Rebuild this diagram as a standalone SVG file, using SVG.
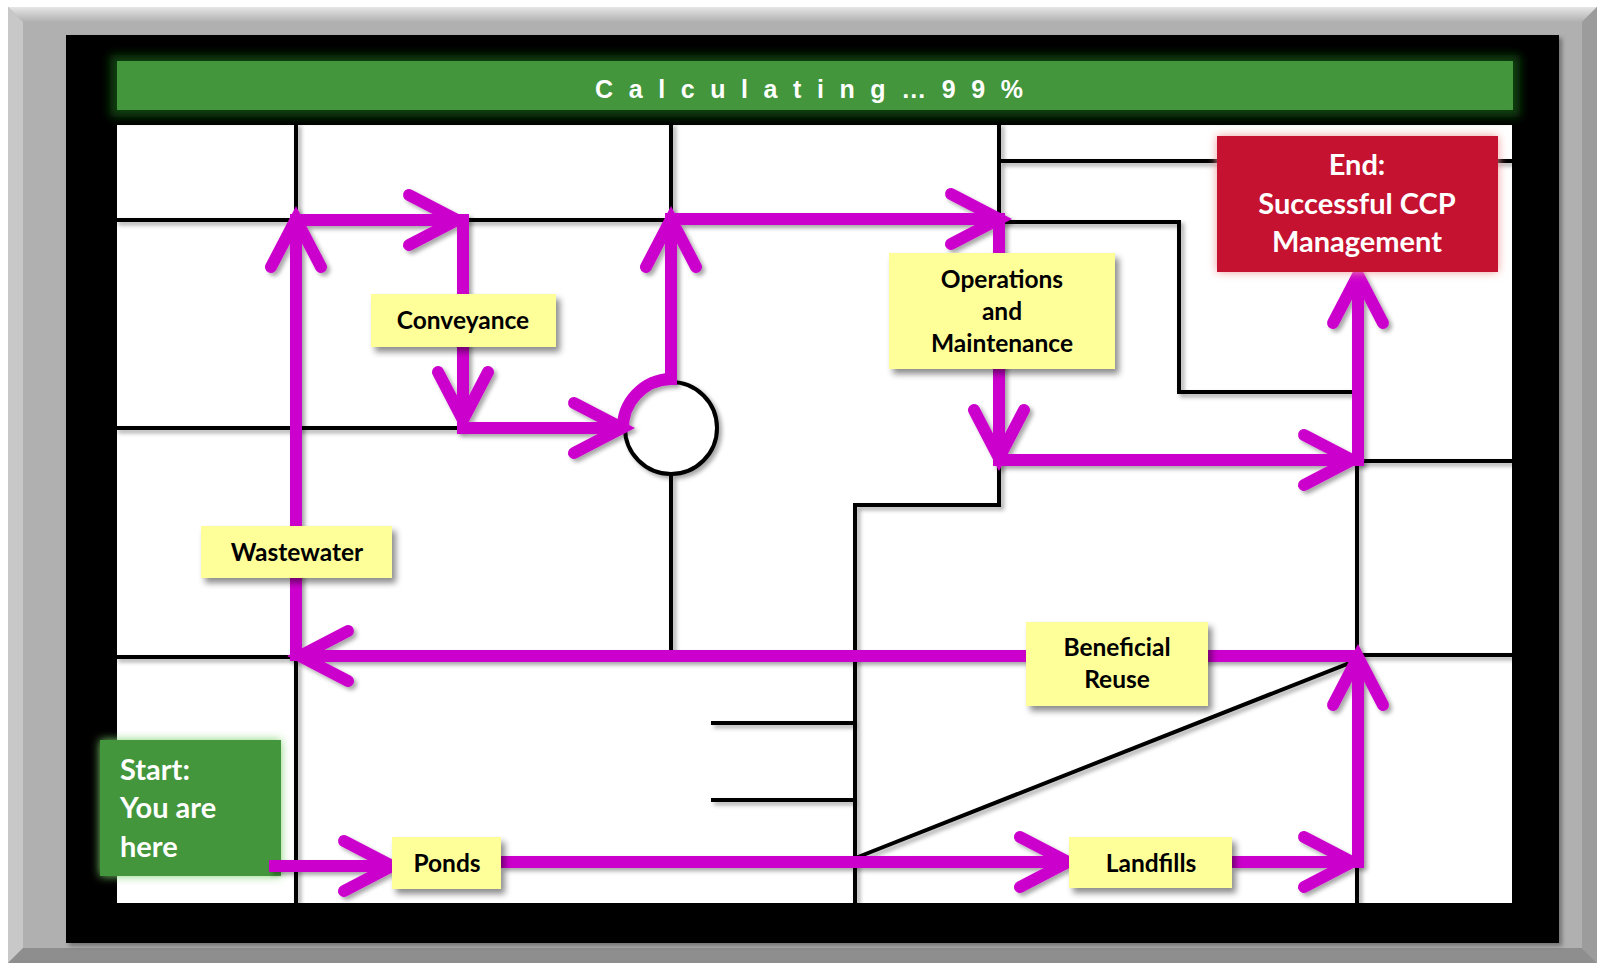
<svg xmlns="http://www.w3.org/2000/svg" width="1598" height="967" viewBox="0 0 1598 967">
  <defs>
    <style>
      .wall { stroke: #000; stroke-width: 4; fill: none; stroke-linecap: square; }
      .flow { stroke: #cc00cc; stroke-width: 12; fill: none; stroke-linejoin: miter; }
      .note { fill: #ffff99; }
      .lbl { font-family: Lato, "Open Sans", sans-serif; font-weight: bold; font-size: 24.5px; fill: #000; text-anchor: middle; }
      .big { font-family: Lato, "Open Sans", sans-serif; font-weight: bold; font-size: 29px; fill: #fff; }
    </style>
    <marker id="chev" markerUnits="userSpaceOnUse" markerWidth="120" markerHeight="120" refX="0" refY="0" viewBox="-60 -60 120 120" orient="auto" overflow="visible">
      <path d="M-48,-25 L0,0 L-48,25" fill="none" stroke="#cc00cc" stroke-width="12" stroke-linecap="round" stroke-linejoin="miter"/>
    </marker>
    <filter id="sh" x="-10%" y="-10%" width="130%" height="130%">
      <feDropShadow dx="3" dy="3" stdDeviation="2" flood-color="#000" flood-opacity="0.35"/>
    </filter>
    <filter id="shbox" x="-10%" y="-10%" width="130%" height="130%">
      <feDropShadow dx="4" dy="5" stdDeviation="3" flood-color="#000" flood-opacity="0.45"/>
    </filter>
    <filter id="glowDark" x="-5%" y="-50%" width="110%" height="200%">
      <feGaussianBlur stdDeviation="5"/>
    </filter>
    <filter id="glow" x="-20%" y="-20%" width="140%" height="140%">
      <feGaussianBlur stdDeviation="5"/>
    </filter>
    <linearGradient id="frameTop" x1="0" y1="0" x2="0" y2="1">
      <stop offset="0" stop-color="#e6e6e6"/>
      <stop offset="1" stop-color="#b0b0b0"/>
    </linearGradient>
  </defs>

  <!-- frame -->
  <g id="frame">
    <rect x="8" y="7" width="1589" height="956" fill="#b0b0b0"/>
    <path d="M8,7 L1597,7 L1582,22 L23,22 Z" fill="url(#frameTop)"/>
    <path d="M8,7 L23,22 L23,948 L8,963 Z" fill="#c8c8c8"/>
    <path d="M8,963 L23,948 L1582,948 L1597,963 Z" fill="#8e8e8e"/>
    <path d="M1597,7 L1597,963 L1582,948 L1582,22 Z" fill="#9c9c9c"/>
    <rect x="66" y="35" width="1493" height="908" fill="#000" filter="url(#sh)"/>
    <rect x="117" y="125" width="1395" height="778" fill="#fff"/>
  </g>

  <!-- title bar -->
  <g id="title">
    <rect x="110" y="55" width="1410" height="62" fill="#0e3f08" filter="url(#glowDark)"/>
    <rect x="117" y="61" width="1396" height="49" fill="#43963b"/>
    <text x="595" y="98" font-family="'Liberation Sans', Arial, sans-serif" font-weight="bold" font-size="25" fill="#fff" textLength="428" lengthAdjust="spacing">Calculating…99%</text>
  </g>

  <!-- black walls -->
  <g id="walls" filter="url(#sh)">
    <path class="wall" d="M296,125 V220 M117,220 H296"/>
    <path class="wall" d="M463,220 H671 M671,125 V220"/>
    <path class="wall" d="M117,428 H463"/>
    <path class="wall" d="M117,657 H296 V903"/>
    <path class="wall" d="M671,475 V649"/>
    <circle cx="671" cy="428" r="46" fill="#fff" stroke="#000" stroke-width="4"/>
    <path class="wall" d="M999,125 V222 H1179 V392 H1350"/>
    <path class="wall" d="M999,161 H1512"/>
    <path class="wall" d="M999,460 V505 H855 V903"/>
    <path class="wall" d="M713,723 H855 M713,800 H855"/>
    <path class="wall" d="M858,857 L1357,660"/>
    <path class="wall" d="M1357,460 V903 M1357,461 H1512 M1357,655 H1512"/>
  </g>

  <!-- start node (drawn beneath its outgoing connector) -->
  <g id="start">
    <rect x="100" y="740" width="181" height="136" fill="#7fd070" filter="url(#glow)"/>
    <rect x="100" y="740" width="181" height="136" fill="#43963b"/>
    <text class="big" x="120" y="780">Start:</text>
    <text class="big" x="120" y="818">You are</text>
    <text class="big" x="120" y="857">here</text>
  </g>

  <!-- magenta flow connectors -->
  <g id="connectors" filter="url(#sh)">
    <path class="flow" d="M269,866 H392" marker-end="url(#chev)"/>
    <path class="flow" d="M501,862 H1068" marker-end="url(#chev)"/>
    <path class="flow" d="M1232,862 H1352" marker-end="url(#chev)"/>
    <path class="flow" d="M1358,868 V657" marker-end="url(#chev)"/>
    <path class="flow" d="M1358,656 H300" marker-end="url(#chev)"/>
    <path class="flow" d="M296,661 V219" marker-end="url(#chev)"/>
    <path class="flow" d="M290,220 H457" marker-end="url(#chev)"/>
    <path class="flow" d="M463,214 V420" marker-end="url(#chev)"/>
    <path class="flow" d="M457,428 H622" marker-end="url(#chev)"/>
    <path class="flow" d="M623,430 A49,49 0 0 1 671,379"/>
    <path class="flow" d="M671,385 V219" marker-end="url(#chev)"/>
    <path class="flow" d="M665,219 H999" marker-end="url(#chev)"/>
    <path class="flow" d="M999,213 V458" marker-end="url(#chev)"/>
    <path class="flow" d="M993,460 H1352" marker-end="url(#chev)"/>
    <path class="flow" d="M1358,466 V275" marker-end="url(#chev)"/>
  </g>

  <!-- nodes -->
  <g id="end">
    <rect x="1217" y="136" width="281" height="136" fill="#f39a9a" filter="url(#glow)"/>
    <rect x="1217" y="136" width="281" height="136" fill="#c41230"/>
    <text class="big" x="1357" y="175" text-anchor="middle">End:</text>
    <text class="big" x="1357" y="214" text-anchor="middle">Successful CCP</text>
    <text class="big" x="1357" y="252" text-anchor="middle">Management</text>
  </g>
  <g id="conveyance">
    <rect class="note" x="371" y="294" width="185" height="53" filter="url(#shbox)"/>
    <text class="lbl" x="463" y="329">Conveyance</text>
  </g>
  <g id="wastewater">
    <rect class="note" x="201" y="526" width="191" height="52" filter="url(#shbox)"/>
    <text class="lbl" x="297" y="561">Wastewater</text>
  </g>
  <g id="operations">
    <rect class="note" x="889" y="253" width="226" height="116" filter="url(#shbox)"/>
    <text class="lbl" x="1002" y="288">Operations</text>
    <text class="lbl" x="1002" y="320">and</text>
    <text class="lbl" x="1002" y="352">Maintenance</text>
  </g>
  <g id="beneficial">
    <rect class="note" x="1026" y="622" width="182" height="84" filter="url(#shbox)"/>
    <text class="lbl" x="1117" y="656">Beneficial</text>
    <text class="lbl" x="1117" y="688">Reuse</text>
  </g>
  <g id="ponds">
    <rect class="note" x="392" y="837" width="109" height="52" filter="url(#shbox)"/>
    <text class="lbl" x="447" y="872">Ponds</text>
  </g>
  <g id="landfills">
    <rect class="note" x="1069" y="837" width="163" height="51" filter="url(#shbox)"/>
    <text class="lbl" x="1151" y="872">Landfills</text>
  </g>
</svg>
